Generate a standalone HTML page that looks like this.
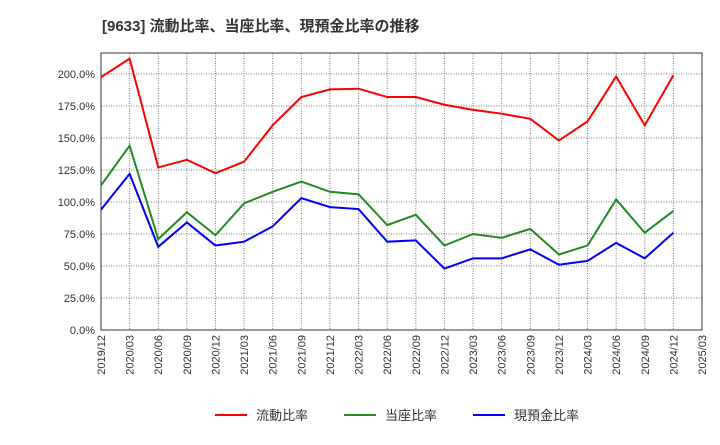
<!DOCTYPE html>
<html><head><meta charset="utf-8"><style>
body{margin:0;background:#fff;font-family:"Liberation Sans","Noto Sans CJK JP",sans-serif;}
</style></head><body>
<svg id="chart" width="720" height="440" xmlns="http://www.w3.org/2000/svg" font-family="Liberation Sans, Noto Sans CJK JP, sans-serif">
<text x="102" y="31" font-size="15" font-weight="bold" fill="#333">[9633]  流動比率、当座比率、現預金比率の推移</text>
<g id="grid"></g><g id="axes"></g><g id="series"></g>
<g font-size="13" fill="#333">
<line x1="215" y1="415" x2="247" y2="415" stroke="#ff0000" stroke-width="2"/><text x="256" y="420">流動比率</text>
<line x1="344" y1="415" x2="376" y2="415" stroke="#228b22" stroke-width="2"/><text x="385" y="420">当座比率</text>
<line x1="473" y1="415" x2="505" y2="415" stroke="#0000ff" stroke-width="2"/><text x="514" y="420">現預金比率</text>
</g>
</svg>
<script>
const categories=["2019/12","2020/03","2020/06","2020/09","2020/12","2021/03","2021/06","2021/09","2021/12","2022/03","2022/06","2022/09","2022/12","2023/03","2023/06","2023/09","2023/12","2024/03","2024/06","2024/09","2024/12","2025/03"];
const currentRatio=[197.5,212,127,133,122.5,131.5,160,182,188,188.5,182,182,176,172,169,165,148,163,198,160,199];
const quickRatio=[113,144,71,92,74,99,108,116,108,106,82,90,66,75,72,79,59,66,102,76,93];
const cashRatio=[94,122,65,84,66,69,81,103,96,94.5,69,70,48,56,56,63,51,54,68,56,76];
const yTicks=[0,25,50,75,100,125,150,175,200];
const X0=101,X1=702,Y0=330,YT=53;
const x=i=>X0+(X1-X0)*i/(categories.length-1);
const y=v=>Y0-v*(330-74)/200;
const NS="http://www.w3.org/2000/svg";
function mk(tag,attrs,parent){const e=document.createElementNS(NS,tag);for(const k in attrs)e.setAttribute(k,attrs[k]);parent.appendChild(e);return e;}
const grid=document.getElementById('grid'),axes=document.getElementById('axes'),series=document.getElementById('series');
yTicks.forEach(t=>{
 const l=mk('line',{x1:X0,x2:X1,y1:y(t),y2:y(t),stroke:'#777','stroke-dasharray':'1,1.5','stroke-width':1},grid);
 
 
 const tx=mk('text',{x:X0-6,y:y(t)+4,'text-anchor':'end','font-size':11,fill:'#333'},axes);
 tx.textContent=t.toFixed(1)+'%';
 
 
});
categories.forEach((c,i)=>{
 const l=mk('line',{x1:x(i),x2:x(i),y1:YT,y2:Y0,stroke:'#777','stroke-dasharray':'1,1.5','stroke-width':1},grid);
 
 
 const tx=mk('text',{x:0,y:0,'text-anchor':'end','font-size':11,fill:'#333',transform:`translate(${x(i)+4},${Y0+5}) rotate(-90)`},axes);
 tx.textContent=c;
 
 
});
const frame=mk('rect',{x:X0,y:YT,width:X1-X0,height:Y0-YT,fill:'none',stroke:'#333','stroke-width':1},axes);


[[currentRatio,'#ff0000','current-ratio-line'],[quickRatio,'#228b22','quick-ratio-line'],[cashRatio,'#0000ff','cash-ratio-line']].forEach(([d,col,name])=>{
 const p=mk('polyline',{points:d.map((v,i)=>x(i)+','+y(v)).join(' '),fill:'none',stroke:col,'stroke-width':2},series);
 
 
});
</script>
</body></html>
